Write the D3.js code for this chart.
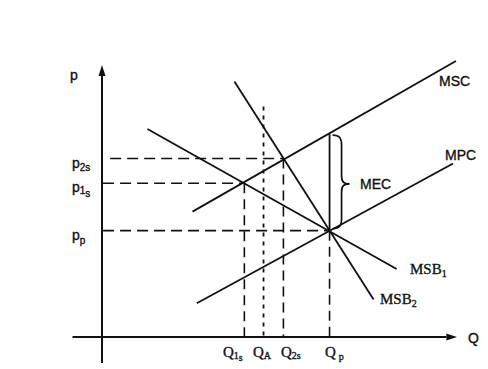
<!DOCTYPE html>
<html>
<head>
<meta charset="utf-8">
<script src="https://cdn.jsdelivr.net/npm/d3@7/dist/d3.min.js"></script>
<style>
html,body{margin:0;padding:0;background:#fff;}
svg{display:block;}
.sans{font-family:"Liberation Sans",Arial,sans-serif;}
.serif{font-family:"Liberation Serif","Times New Roman",serif;}
text{stroke:#111;stroke-width:0.35px;}
</style>
</head>
<body>
<script>
// ---- data (Q on horizontal axis, p on vertical axis, arbitrary units 0..100) ----
const curveNames  = ["MSC", "MPC", "MSB1", "MSB2"];
const curveStartQ = [25.5, 26.7, 12.8, 37.3];
const curveStartP = [46.1, 12.4, 76.5, 93.9];
const curveEndQ   = [99.7, 98.9, 83.0, 76.5];
const curveEndP   = [101.5, 63.8, 25.0, 13.8];

// equilibrium points: 1s, 2s, p
const eqKeys  = ["1s", "2s", "p"];
const eqQ     = [40.1, 51.1, 64.1];
const eqP     = [56.5, 65.6, 39.1];
const priceLineStartQ = [0.3, 2.3, 0.3];

const qA = 45.5;        // Q_A dotted line
const qATop = 84.7;
const mecTopP = 74.6;   // MSC value at Q_p

const W = 488, H = 369;
const x = d3.scaleLinear().domain([0, 100]).range([102, 457]);
const y = d3.scaleLinear().domain([0, 100]).range([337, 65]);

const svg = d3.select("body").append("svg").attr("width", W).attr("height", H);
const ink = "#111";

// axes
svg.append("line").attr("x1", x(-8.3)).attr("x2", x(97)).attr("y1", y(0)).attr("y2", y(0))
  .attr("stroke", ink).attr("stroke-width", 2);
svg.append("path").attr("d", `M${x(100)},${y(0)} L${x(97)},${y(0)-3.5} L${x(97)},${y(0)+3.5} Z`).attr("fill", ink);
svg.append("line").attr("x1", x(0)).attr("x2", x(0)).attr("y1", y(-9.6)).attr("y2", y(96))
  .attr("stroke", ink).attr("stroke-width", 2);
svg.append("path").attr("d", `M${x(0)},${y(100)} L${x(0)-3.5},${y(96)} L${x(0)+3.5},${y(96)} Z`).attr("fill", ink);

// dashed price lines
svg.selectAll(".pl").data(eqKeys).enter().append("line")
  .attr("x1", (d,i) => x(priceLineStartQ[i])).attr("x2", (d,i) => x(eqQ[i]))
  .attr("y1", (d,i) => y(eqP[i])).attr("y2", (d,i) => y(eqP[i]))
  .attr("stroke", ink).attr("stroke-width", 1.6).attr("stroke-dasharray", "11,6");
// dashed quantity lines
svg.selectAll(".ql").data(eqKeys).enter().append("line")
  .attr("x1", (d,i) => x(eqQ[i])).attr("x2", (d,i) => x(eqQ[i]))
  .attr("y1", (d,i) => y(eqP[i])).attr("y2", y(0))
  .attr("stroke", ink).attr("stroke-width", 1.6).attr("stroke-dasharray", "10,6");
// dotted Q_A
svg.append("line").attr("x1", x(qA)).attr("x2", x(qA)).attr("y1", y(qATop)).attr("y2", y(0))
  .attr("stroke", ink).attr("stroke-width", 1.8).attr("stroke-dasharray", "4,5");

// curves
svg.selectAll(".curve").data(curveNames).enter().append("line")
  .attr("x1", (d,i) => x(curveStartQ[i])).attr("y1", (d,i) => y(curveStartP[i]))
  .attr("x2", (d,i) => x(curveEndQ[i])).attr("y2", (d,i) => y(curveEndP[i]))
  .attr("stroke", ink).attr("stroke-width", 1.8);

// MEC vertical line
const qp = eqQ[2];
svg.append("line").attr("x1", x(qp)).attr("x2", x(qp)).attr("y1", y(mecTopP)).attr("y2", y(eqP[2]))
  .attr("stroke", ink).attr("stroke-width", 1.8);

// brace
const bx = x(qp), bt = y(mecTopP) + 1, bb = y(eqP[2]) - 2, bm = (bt + bb) / 2 + 2;
const bracePath = `M${bx+3},${bt} C${bx+10},${bt} ${bx+12},${bt+3} ${bx+12},${bt+10}
  L${bx+12},${bm-8} C${bx+12},${bm-2} ${bx+14},${bm} ${bx+20},${bm}
  C${bx+14},${bm} ${bx+12},${bm+2} ${bx+12},${bm+8}
  L${bx+12},${bb-10} C${bx+12},${bb-3} ${bx+10},${bb} ${bx+3},${bb}`;
svg.append("path").attr("d", bracePath).attr("fill", "none").attr("stroke", ink).attr("stroke-width", 1.7);

// ---- labels ----
function label(cls, px, py, main, subs, size) {
  const t = svg.append("text").attr("class", cls).attr("x", px).attr("y", py)
    .attr("font-size", size || 14).attr("fill", ink).text(main);
  subs.forEach(s => t.append("tspan").attr("dx", s[2] || 0).attr("dy", s[1]).attr("font-size", 10).text(s[0]));
  return t;
}
// axis labels
label("sans", 70, 80, "p", []);
label("sans", 468, 343, "Q", []);
// price labels
label("sans", 72, y(eqP[1]) + 9, "p", [["2s", 3]]);
label("sans", 72, y(eqP[0]) + 9, "p", [["1", 2], ["s", 3]]);
label("sans", 72, y(eqP[2]) + 9, "p", [["p", 4]]);
// quantity labels
label("serif", 223, 357, "Q", [["1", 2], ["s", 2]], 15);
label("serif", 253, 357, "Q", [["A", 2]], 15);
label("serif", 281, 357, "Q", [["2s", 2]], 15);
label("serif", 325, 357, "Q", [["p", 3, 3]], 15);
// curve labels
label("sans", 439, 86, "MSC", []);
label("sans", 445, 160, "MPC", []);
label("sans", 360, 189, "MEC", []);
label("serif", 410, 274, "MSB", [["1", 3]], 15);
label("serif", 380, 304, "MSB", [["2", 3]], 15);
</script>
</body>
</html>
